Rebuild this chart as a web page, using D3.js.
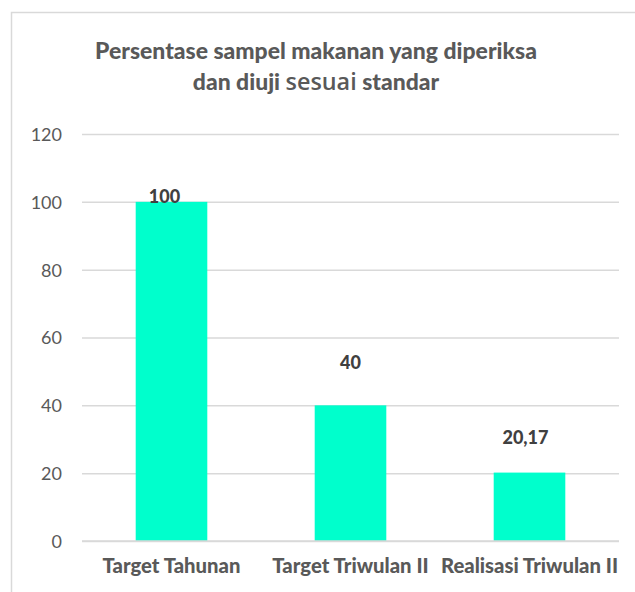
<!DOCTYPE html>
<html>
<head>
<meta charset="utf-8">
<script src="https://cdn.jsdelivr.net/npm/d3@7"></script>
<style>
  html, body { margin: 0; padding: 0; background: #fff; }
  svg { display: block; }
</style>
</head>
<body>
<svg id="chart" width="635" height="592"></svg>
<script>
// ---- data ----
const categories = ["Target Tahunan", "Target Triwulan II", "Realisasi Triwulan II"];
const values = [100, 40, 20.17];
const valueLabels = ["100", "40", "20,17"];
const yTicks = [0, 20, 40, 60, 80, 100, 120];
const titleLine1 = "Persentase sampel makanan yang diperiksa";
const titleLine2 = ["dan diuji ", "sesuai", " standar"];

// ---- layout ----
const svg = d3.select("#chart");
const W = 635, H = 592;
const plot = { left: 82, right: 619, top: 134, bottom: 541 };
const textColor = "#595959";
const barColor = "#00FFCC";
const gridColor = "#D9D9D9";
const FONT = "Lato, 'Open Sans', sans-serif";

// outer chart border (cropped at right/bottom like reference)
svg.append("rect")
  .attr("x", 11.5).attr("y", 12.5)
  .attr("width", W + 20).attr("height", H + 20)
  .attr("fill", "#fff").attr("stroke", gridColor).attr("stroke-width", 1.5);

const x = d3.scaleBand()
  .domain(categories)
  .range([plot.left, plot.right])
  .paddingInner(0.6)
  .paddingOuter(0.3);

const y = d3.scaleLinear()
  .domain([0, 120])
  .range([plot.bottom, plot.top]);

// gridlines + y tick labels via axis
const yAxis = d3.axisLeft(y)
  .tickValues(yTicks)
  .tickSize(-(plot.right - plot.left))
  .tickPadding(20)
  .tickFormat(d3.format("d"));

const gy = svg.append("g")
  .attr("transform", `translate(${plot.left},0)`)
  .call(yAxis);
gy.select(".domain").remove();
gy.selectAll(".tick line")
  .attr("stroke", gridColor).attr("stroke-width", 1.5);
gy.selectAll(".tick text")
  .attr("fill", textColor)
  .attr("font-family", FONT)
  .attr("font-size", 18)
  .attr("dy", "0.36em");

// bars
svg.append("g").selectAll("rect")
  .data(values)
  .join("rect")
  .attr("x", (d, i) => x(categories[i]))
  .attr("width", x.bandwidth())
  .attr("y", d => y(d))
  .attr("height", d => y(0) - y(d))
  .attr("fill", barColor);

// redraw baseline over bars
svg.append("line")
  .attr("x1", plot.left).attr("x2", plot.right)
  .attr("y1", y(0)).attr("y2", y(0))
  .attr("stroke", gridColor).attr("stroke-width", 1.5);

// value labels (manually placed like the reference)
const labelDx = [-7, 0, -4];
const labelDy = [1, -36, -29];
svg.append("g").selectAll("text")
  .data(values)
  .join("text")
  .attr("x", (d, i) => x(categories[i]) + x.bandwidth() / 2 + labelDx[i])
  .attr("y", (d, i) => y(d) + labelDy[i])
  .attr("text-anchor", "middle")
  .attr("font-family", FONT)
  .attr("font-weight", 900)
  .attr("font-size", 18)
  .attr("fill", "#404040")
  .text((d, i) => valueLabels[i]);

// helper: font size that makes text reach target width
function fitSize(sel, target, base) {
  const w = sel.node().getComputedTextLength();
  return base * target / w;
}

// category labels (one common size, fitted on the first label)
const cats = svg.append("g").selectAll("text")
  .data(categories)
  .join("text")
  .attr("x", d => x(d) + x.bandwidth() / 2)
  .attr("y", 573)
  .attr("text-anchor", "middle")
  .attr("font-family", FONT)
  .attr("font-weight", 900)
  .attr("font-size", 17)
  .attr("fill", textColor)
  .text(d => d);
const catSize = fitSize(d3.select(cats.nodes()[0]), 138, 17);
cats.attr("font-size", catSize);

// title
const t1 = svg.append("text")
  .attr("x", 316).attr("y", 59)
  .attr("text-anchor", "middle")
  .attr("font-family", FONT)
  .attr("font-weight", 900)
  .attr("font-size", 23)
  .attr("fill", textColor)
  .text(titleLine1);
const fs1 = fitSize(t1, 442, 23);
t1.attr("font-size", fs1);

const t2 = svg.append("text")
  .attr("x", 316).attr("y", 90)
  .attr("text-anchor", "middle")
  .attr("font-family", FONT)
  .attr("font-weight", 900)
  .attr("font-size", fs1)
  .attr("fill", textColor);
t2.selectAll("tspan")
  .data(titleLine2)
  .join("tspan")
  .attr("font-family", (d, i) => i === 1 ? "'Open Sans', sans-serif" : null)
  .attr("font-weight", (d, i) => i === 1 ? 600 : null)
  .attr("font-size", (d, i) => i === 1 ? fs1 * 1.02 : null)
  .text(d => d);
</script>
</body>
</html>
